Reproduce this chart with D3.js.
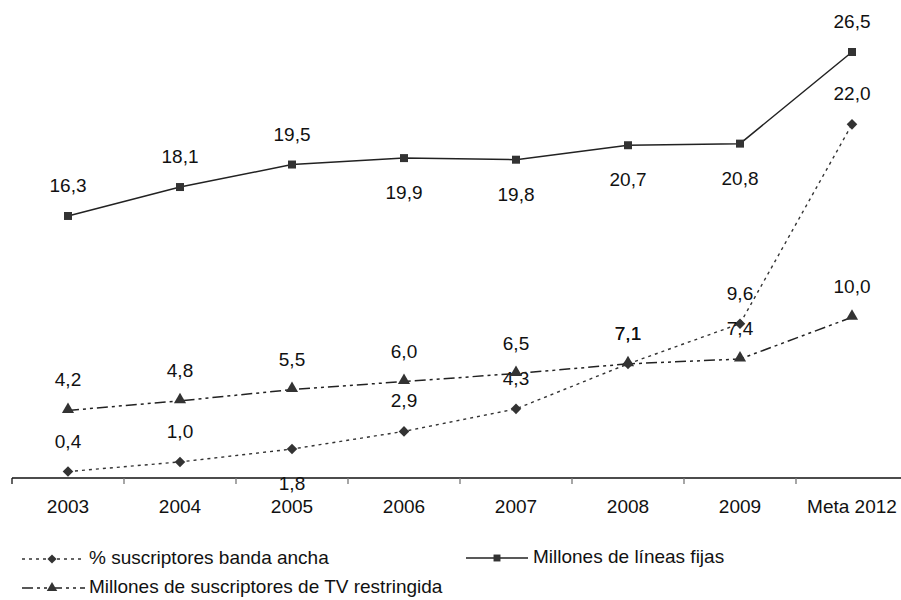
<!DOCTYPE html>
<html>
<head>
<meta charset="utf-8">
<script src="https://cdn.jsdelivr.net/npm/d3@7"></script>
<style>
html,body{margin:0;padding:0;background:#fff;}
text{font-family:"Liberation Sans",Arial,sans-serif;fill:#111;}
</style>
</head>
<body>
<svg id="chart" width="901" height="600"></svg>
<script>
// ---- data ----
const categories = ["2003","2004","2005","2006","2007","2008","2009","Meta 2012"];
const bandaAncha = [0.4, 1.0, 1.8, 2.9, 4.3, 7.1, 9.6, 22.0];
const lineasFijas = [16.3, 18.1, 19.5, 19.9, 19.8, 20.7, 20.8, 26.5];
const tvRestringida = [4.2, 4.8, 5.5, 6.0, 6.5, 7.1, 7.4, 10.0];
const seriesNames = ["% suscriptores banda ancha", "Millones de líneas fijas", "Millones de suscriptores de TV restringida"];

// ---- layout (label side per point: 1 above, -1 below) ----
const sideBanda = [1,1,-1,1,1,1,1,1];
const sideFijas = [1,1,1,-1,-1,-1,-1,1];
const sideTv = [1,1,1,1,1,1,1,1];

const FS = 19;
const svg = d3.select("#chart");
const x = d3.scaleBand().domain(categories).range([12, 908]).paddingInner(0).paddingOuter(0);
const y = d3.scaleLinear().domain([0, 26.5]).range([478, 52]);
const cx = c => x(c) + x.bandwidth()/2;
const fmt = v => d3.format(".1f")(v).replace(".", ",");

// axis
const axisG = svg.append("g").attr("transform","translate(0,478)");
axisG.append("line").attr("x1",12).attr("x2",901).attr("y1",0).attr("y2",0).attr("stroke","#111").attr("stroke-width",1.3);
const tickPos = categories.map(c => x(c));
axisG.selectAll("line.tick").data(tickPos).enter().append("line")
  .attr("class","tick").attr("x1",d=>d).attr("x2",d=>d).attr("y1",0).attr("y2",6)
  .attr("stroke",(d,i)=> i===0 ? "#111" : "#777").attr("stroke-width",1.3);
axisG.selectAll("text").data(categories).enter().append("text")
  .attr("x", d=>cx(d)).attr("y", 30).attr("text-anchor","middle")
  .attr("font-size",FS).attr("dominant-baseline","middle").text(d=>d);

const line = d3.line().x((d,i)=>cx(categories[i])).y(d=>y(d));

const styles = [
  {data: bandaAncha, dash: "3,4", color: "#333", width: 1.4, marker: d3.symbolSquare, rot: 45, size: 56, side: sideBanda},
  {data: lineasFijas, dash: null, color: "#222", width: 1.5, marker: d3.symbolSquare, rot: 0, size: 64, side: sideFijas},
  {data: tvRestringida, dash: "11,4,3,4,3,4", color: "#222", width: 1.5, marker: d3.symbolTriangle, rot: 0, size: 64, side: sideTv}
];

styles.forEach(s => {
  svg.append("path").datum(s.data).attr("d", line).attr("fill","none")
    .attr("stroke", s.color).attr("stroke-width", s.width)
    .attr("stroke-dasharray", s.dash);
  svg.selectAll(null).data(s.data).enter().append("path")
    .attr("d", d3.symbol().type(s.marker).size(s.size))
    .attr("transform",(d,i)=>`translate(${cx(categories[i])},${y(d) - (s.marker===d3.symbolTriangle?1:0)}) rotate(${s.rot})`)
    .attr("fill","#333");
  svg.selectAll(null).data(s.data).enter().append("text")
    .attr("x",(d,i)=>cx(categories[i]))
    .attr("y",(d,i)=> s.side[i] > 0 ? y(d) - 29 : y(d) + 36)
    .attr("text-anchor","middle").attr("dominant-baseline","middle")
    .attr("font-size",FS).text(d=>fmt(d));
});

// legend
const leg = [
  {name: seriesNames[0], s: styles[0], x1: 22, x2: 85, mx: 52, ty: 559, tx: 89},
  {name: seriesNames[1], s: styles[1], x1: 466, x2: 528, mx: 497, ty: 558, tx: 533},
  {name: seriesNames[2], s: styles[2], x1: 22, x2: 85, mx: 52, ty: 588, tx: 89}
];
leg.forEach(l => {
  svg.append("line").attr("x1",l.x1).attr("x2",l.x2).attr("y1",l.ty).attr("y2",l.ty)
    .attr("stroke",l.s.color).attr("stroke-width",l.s.width).attr("stroke-dasharray",l.s.dash);
  svg.append("path").attr("d", d3.symbol().type(l.s.marker).size(l.s.size*0.75))
    .attr("transform",`translate(${l.mx},${l.ty}) rotate(${l.s.rot})`).attr("fill","#333");
  svg.append("text").attr("x",l.tx).attr("y",l.ty).attr("dominant-baseline","middle")
    .attr("font-size",FS).text(l.name);
});
</script>
</body>
</html>
